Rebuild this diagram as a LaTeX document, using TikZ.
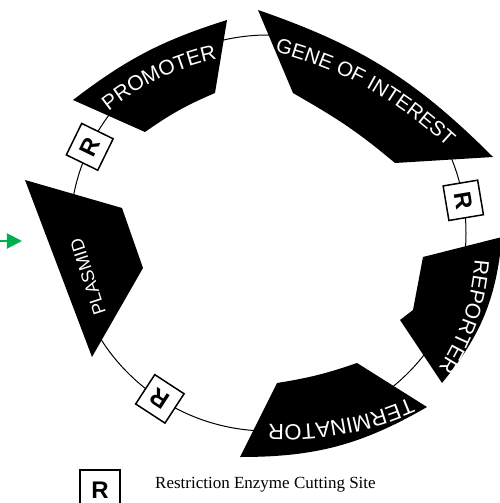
\documentclass[tikz,border=0pt]{standalone}
\usepackage{fontspec}
\setmainfont{Liberation Serif}
\setsansfont{Liberation Sans}
\usetikzlibrary{arrows.meta,decorations.text}

\definecolor{arrowgreen}{RGB}{0,176,80}
\newcommand{\seglabelfont}{\sffamily\fontsize{21}{21}\selectfont}

\tikzset{
  segment/.style={fill=black},
  seglabel/.style={decorate,decoration={text along path,text align=center,text color=white}},
  sitebox/.style={draw,fill=white,line width=1.5pt,minimum size=35pt,inner sep=0pt,
    font=\sffamily\bfseries\fontsize{24}{24}\selectfont},
}

\begin{document}
\begin{tikzpicture}[x=1pt,y=1pt]
  \useasboundingbox (-268,-270) rectangle (232,233);
  % plasmid backbone
  \draw[line width=1pt] (0,0) circle (198);
  % segments
  \fill[segment] (-41,213) to[bend right=10] (-195,133) -- (-123,101) to[bend left=6] (-53,140) -- cycle;
  \fill[segment] (-10,223) to[bend left=13] (225,76) -- (127,70) to[bend right=5] (37,133) -- (25,140) -- cycle;
  \fill[segment] (155,-24) -- (234,-4) to[bend left=17] (174,-150) -- (132,-87) -- (145,-77) -- cycle;
  \fill[segment] (9,-150) to[bend right=5] (89,-130) -- (159,-174) to[bend left=15] (-28,-224) -- cycle;
  \fill[segment] (-243,53) -- (-146,25) -- (-125,-35) -- (-176,-124) -- cycle;
  % labels
  \path[seglabel,decoration={text={|\seglabelfont|PROMOTER}}] (-175,109) to[bend left=15] (-31,178);
  \path[seglabel,decoration={text={|\sffamily\fontsize{20.5}{20.5}\selectfont|GENE OF INTEREST}}] (-21,188) to[bend left=16] (200,66);
  \path[seglabel,decoration={text={|\seglabelfont|REPORTER}}] (208,-4) to[bend left=17] (158,-154);
  \path[seglabel,decoration={text={|\sffamily\fontsize{22}{22}\selectfont|TERMINATOR}}] (166,-154) to[bend left=15] (-26,-190);
  \node[text=white,font=\sffamily\fontsize{18}{18}\selectfont,rotate=108] (plasmidlabel) at (-180,-44) {PLASMID};
  % cutting sites
  \node[sitebox,rotate=64] (site1) at (154.2:198) {R};
  \node[sitebox,rotate=-80.5] (site2) at (9.5:198) {R};
  \node[sitebox,rotate=146.9] (site3) at (236.9:198) {R};
  % legend
  \node[sitebox,minimum size=40pt] (legendsite) at (-168,-257) {R};
  \node[anchor=base west,inner sep=0pt,font=\fontsize{17}{17}\selectfont] (legendtext) at (-113,-255) {Restriction Enzyme Cutting Site};
  % pointer
  \coordinate (arrowtail) at (-268,-8);
  \coordinate (arrowtip) at (-246,-8);
  \draw[arrowgreen,line width=2pt,-{Triangle[length=15pt,width=15pt]}] (arrowtail) -- (arrowtip);
\end{tikzpicture}
\end{document}
